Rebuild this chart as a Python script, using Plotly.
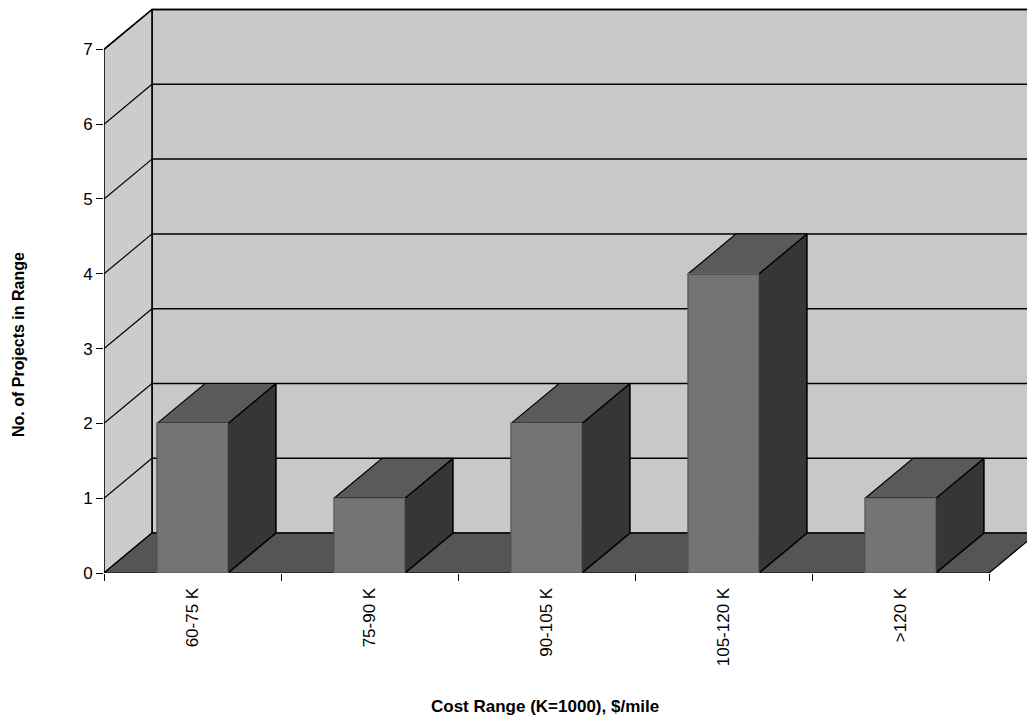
import plotly.graph_objects as go

# ---- data ----
categories = ["60-75 K", "75-90 K", "90-105 K", "105-120 K", ">120 K"]
projects = [2, 1, 2, 4, 1]
y_ticks = [0, 1, 2, 3, 4, 5, 6, 7]

# ---- 3D look geometry (in axis units) ----
BAR_HALF = 0.2        # half width of the bar front face (category units)
DX = 48 / 177         # depth offset along x
DY = 40 / 75          # depth offset along y
YMAX = 7

WALL = "#c8c8c8"
SIDE_WALL = "#cccccc"
FLOOR = "#555555"
FRONT = "#747474"
TOP = "#5a5a5a"
SIDE = "#363636"

fig = go.Figure()


def poly(xs, ys, fill, lw=1.2, lc="black"):
    fig.add_trace(go.Scatter(
        x=list(xs) + [xs[0]], y=list(ys) + [ys[0]], mode="lines",
        fill="toself", fillcolor=fill, line=dict(color=lc, width=lw),
        hoverinfo="skip", showlegend=False))


def seg(xs, ys, lw=1.2):
    fig.add_trace(go.Scatter(x=xs, y=ys, mode="lines",
                             line=dict(color="black", width=lw),
                             hoverinfo="skip", showlegend=False))


n = len(categories)
x0 = -0.5
x1 = n - 0.5

# back wall
poly([x0 + DX, x1 + DX + 0.3, x1 + DX + 0.3, x0 + DX],
     [DY, DY, YMAX + DY, YMAX + DY], WALL, lw=1.6)
# left wall
poly([x0, x0 + DX, x0 + DX, x0], [0, DY, YMAX + DY, YMAX], SIDE_WALL, lw=1.6)

# gridlines
for k in y_ticks[1:]:
    seg([x0 + DX, x1 + DX + 0.3], [k + DY, k + DY], lw=1.5)
    seg([x0, x0 + DX], [k, k + DY], lw=1.2)

# floor
poly([x0, x1, x1 + DX, x0 + DX], [0, 0, DY, DY], FLOOR, lw=1.2)

# bars
for i, v in enumerate(projects):
    l, r = i - BAR_HALF, i + BAR_HALF
    # side face
    poly([r, r + DX, r + DX, r], [0, DY, v + DY, v], SIDE, lw=1.6)
    # top face
    poly([l, r, r + DX, l + DX], [v, v, v + DY, v + DY], TOP, lw=1.2)
    # front face
    poly([l, r, r, l], [0, 0, v, v], FRONT, lw=1.2)
    fig.add_trace(go.Scatter(x=[l, r, r, l, l], y=[0, 0, v, v, 0], mode="lines",
                             line=dict(color="#a8a8a8", width=0.8),
                             hoverinfo="skip", showlegend=False))

font = "Liberation Sans, Arial, sans-serif"

# page body has an 8px margin, so the figure is laid out 8px offset
L, T, B = 96, 0, 149
W, H = 1035, 714
PW = W - L
fig.update_layout(
    width=W, height=H,
    margin=dict(l=L, r=0, t=T, b=B),
    paper_bgcolor="white", plot_bgcolor="white",
    font=dict(family=font, size=17, color="black"),
    xaxis=dict(
        range=[x0, x0 + PW / 177], showgrid=False, zeroline=False, showline=False,
        tickmode="array", tickvals=list(range(n)), ticktext=categories,
        tickangle=-90, ticks="outside", ticklen=7, tickcolor="rgba(0,0,0,0)",
        tickfont=dict(size=17),
        minor=dict(tickmode="array", tickvals=[x0 + j for j in range(n + 1)],
                   ticks="outside", ticklen=7, tickcolor="black", tickwidth=1,
                   showgrid=False),
    ),
    yaxis=dict(
        range=[0, YMAX + DY + 0.02], showgrid=False, zeroline=False, showline=False,
        tickmode="array", tickvals=[t for t in y_ticks], ticktext=[str(t) for t in y_ticks],
        ticks="outside", ticklen=7, tickcolor="black", tickfont=dict(size=17),
    ),
    annotations=[
        dict(text="<b>Cost Range (K=1000), $/mile</b>", xref="paper", yref="paper",
             x=(537 - L) / PW, y=-(698 - 565) / 565, showarrow=False,
             font=dict(size=17), xanchor="center", yanchor="middle"),
        dict(text="<b>No. of Projects in Range</b>", xref="paper", yref="paper",
             x=-(L - 10) / PW, y=(565 - 337) / 565, showarrow=False,
             font=dict(size=16), textangle=-90, xanchor="center", yanchor="middle"),
    ],
)

fig.write_html("out.html")
